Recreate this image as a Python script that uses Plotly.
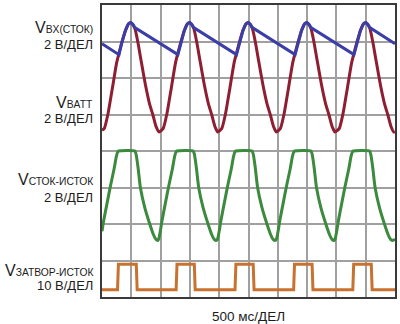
import plotly.graph_objects as go

# Time axis in divisions (10 div across, 500 ms/div); voltage in divisions (8 div tall)
blue_t = [0, 0.58, 0.68, 0.8, 0.9, 0.98, 1.05, 1.12,
          2.59, 2.69, 2.81, 2.91, 2.99, 3.06, 3.13,
          4.59, 4.69, 4.81, 4.91, 4.99, 5.06, 5.13,
          6.59, 6.69, 6.81, 6.91, 6.99, 7.06, 7.13,
          8.6, 8.7, 8.82, 8.92, 9.0, 9.07, 9.14, 10]
blue_v = [6.94, 6.64, 6.98, 7.3, 7.48, 7.52, 7.47, 7.38,
          6.64, 6.98, 7.3, 7.48, 7.52, 7.47, 7.38,
          6.64, 6.98, 7.3, 7.48, 7.52, 7.47, 7.38,
          6.64, 6.98, 7.3, 7.48, 7.52, 7.47, 7.38,
          6.64, 6.98, 7.3, 7.48, 7.52, 7.47, 7.38, 6.94]

red_t = [0, 0.08, 0.21, 0.36, 0.5, 0.58, 0.68, 0.8, 0.9, 0.98, 1.05, 1.12, 1.22, 1.34, 1.48, 1.62, 1.74, 1.84, 1.95,
         2.09, 2.22, 2.37, 2.51, 2.59, 2.69, 2.81, 2.91, 2.99, 3.06, 3.13, 3.23, 3.35, 3.49, 3.63, 3.75, 3.85, 3.95,
         4.09, 4.22, 4.37, 4.51, 4.59, 4.69, 4.81, 4.91, 4.99, 5.06, 5.13, 5.23, 5.35, 5.49, 5.63, 5.75, 5.85, 5.95,
         6.09, 6.22, 6.37, 6.51, 6.59, 6.69, 6.81, 6.91, 6.99, 7.06, 7.13, 7.23, 7.35, 7.49, 7.63, 7.75, 7.85, 7.95,
         8.1, 8.23, 8.38, 8.52, 8.6, 8.7, 8.82, 8.92, 9.0, 9.07, 9.14, 9.24, 9.36, 9.5, 9.64, 9.76, 9.86, 9.96, 10]
red_v = [4.57, 4.62, 5.04, 5.75, 6.42, 6.68, 6.98, 7.3, 7.48, 7.52, 7.47, 7.36, 7.0, 6.45, 5.82, 5.3, 4.98, 4.68, 4.52,
         4.62, 5.04, 5.75, 6.42, 6.68, 6.98, 7.3, 7.48, 7.52, 7.47, 7.36, 7.0, 6.45, 5.82, 5.3, 4.98, 4.68, 4.52,
         4.62, 5.04, 5.75, 6.42, 6.68, 6.98, 7.3, 7.48, 7.52, 7.47, 7.36, 7.0, 6.45, 5.82, 5.3, 4.98, 4.68, 4.52,
         4.62, 5.04, 5.75, 6.42, 6.68, 6.98, 7.3, 7.48, 7.52, 7.47, 7.36, 7.0, 6.45, 5.82, 5.3, 4.98, 4.68, 4.52,
         4.62, 5.04, 5.75, 6.42, 6.68, 6.98, 7.3, 7.48, 7.52, 7.47, 7.36, 7.0, 6.45, 5.82, 5.3, 4.98, 4.68, 4.52, 4.53]

green_t = [0, 0.06, 0.18, 0.29, 0.41, 0.49, 0.54, 0.57, 1.12, 1.16, 1.23, 1.31, 1.46, 1.63, 1.75, 1.84,
           1.9, 1.94, 2.0, 2.05, 2.17, 2.28, 2.4, 2.48, 2.53, 2.56, 3.11, 3.15, 3.22, 3.3, 3.45, 3.62, 3.74, 3.83,
           3.91, 3.95, 4.01, 4.06, 4.18, 4.29, 4.41, 4.49, 4.54, 4.57, 5.12, 5.16, 5.23, 5.31, 5.46, 5.63, 5.75, 5.84,
           5.92, 5.96, 6.02, 6.07, 6.19, 6.3, 6.42, 6.5, 6.55, 6.58, 7.13, 7.17, 7.24, 7.32, 7.47, 7.64, 7.76, 7.85,
           7.92, 7.96, 8.02, 8.07, 8.19, 8.3, 8.42, 8.5, 8.55, 8.58, 9.13, 9.17, 9.24, 9.32, 9.47, 9.64, 9.76, 9.85,
           9.93, 10]
green_v = [1.8, 2.1, 2.6, 3.05, 3.5, 3.85, 3.98, 4.0, 4.0, 3.92, 3.55, 3.0, 2.45, 2.0, 1.72, 1.58,
           1.55, 1.6, 1.85, 2.1, 2.6, 3.05, 3.5, 3.85, 3.98, 4.0, 4.0, 3.92, 3.55, 3.0, 2.45, 2.0, 1.72, 1.58,
           1.55, 1.6, 1.85, 2.1, 2.6, 3.05, 3.5, 3.85, 3.98, 4.0, 4.0, 3.92, 3.55, 3.0, 2.45, 2.0, 1.72, 1.58,
           1.55, 1.6, 1.85, 2.1, 2.6, 3.05, 3.5, 3.85, 3.98, 4.0, 4.0, 3.92, 3.55, 3.0, 2.45, 2.0, 1.72, 1.58,
           1.55, 1.6, 1.85, 2.1, 2.6, 3.05, 3.5, 3.85, 3.98, 4.0, 4.0, 3.92, 3.55, 3.0, 2.45, 2.0, 1.72, 1.58,
           1.55, 1.58]

orange_t = [0, 0.53, 0.56, 1.17, 1.2, 2.53, 2.56, 3.15, 3.18, 4.54, 4.57, 5.16, 5.19,
            6.54, 6.57, 7.17, 7.2, 8.56, 8.59, 9.19, 9.22, 10]
orange_v = [0.2, 0.2, 0.9, 0.9, 0.2, 0.2, 0.9, 0.9, 0.2, 0.2, 0.9, 0.9, 0.2,
            0.2, 0.9, 0.9, 0.2, 0.2, 0.9, 0.9, 0.2, 0.2]

channel_names = ["BX(СТОК)", "BATT", "СТОК-ИСТОК", "ЗАТВОР-ИСТОК"]
channel_scales = ["2 В/ДЕЛ", "2 В/ДЕЛ", "2 В/ДЕЛ", "10 В/ДЕЛ"]
time_scale = "500 мс/ДЕЛ"

W, H = 400, 324
ML, MR, MT, MB = 102, 3, 3, 27
FONT = "Liberation Sans, Arial, sans-serif"
TXT = "#1c1c1c"

fig = go.Figure()
fig.add_trace(go.Scatter(x=green_t, y=green_v, mode="lines",
                         line=dict(color="#3b8a3e", width=3, shape="spline", smoothing=0.5)))
fig.add_trace(go.Scatter(x=orange_t, y=orange_v, mode="lines",
                         line=dict(color="#c8722f", width=3)))
fig.add_trace(go.Scatter(x=red_t, y=red_v, mode="lines",
                         line=dict(color="#8e1f33", width=3, shape="spline", smoothing=0.5)))
fig.add_trace(go.Scatter(x=blue_t, y=blue_v, mode="lines",
                         line=dict(color="#3a3ea6", width=3)))

plot_h = H - MT - MB


def paper_y(px):
    return (H - MB - px) / plot_h


# label rows: (pixel middle of first line, pixel middle of second line)
rows = [(25.8, 42.6), (100.8, 117.6), (179.0, 197.0), (270.6, 285.2)]
annotations = []
for name, scale, (y1, y2) in zip(channel_names, channel_scales, rows):
    annotations.append(dict(
        text='V<span style="font-size:10.3px">' + name + '</span>',
        xref="paper", yref="paper", x=0, y=paper_y(y1),
        xanchor="right", yanchor="middle", xshift=-7, showarrow=False,
        font=dict(family=FONT, size=16, color=TXT)))
    annotations.append(dict(
        text=scale, xref="paper", yref="paper", x=0, y=paper_y(y2),
        xanchor="right", yanchor="middle", xshift=-7, showarrow=False,
        font=dict(family=FONT, size=13, color=TXT)))
annotations.append(dict(
    text=time_scale, xref="paper", yref="paper", x=0.5, y=paper_y(317),
    xanchor="center", yanchor="middle", showarrow=False,
    font=dict(family=FONT, size=13.5, color=TXT)))

axis_common = dict(showgrid=True, gridcolor="#a0a0a0", gridwidth=1.5,
                   showline=True, linecolor="#3a3a3a", linewidth=2, mirror=True,
                   zeroline=False, showticklabels=False, ticks="", dtick=1,
                   fixedrange=True)

fig.update_layout(
    width=W, height=H,
    margin=dict(l=ML, r=MR, t=MT, b=MB, pad=0),
    paper_bgcolor="white", plot_bgcolor="white",
    showlegend=False,
    xaxis=dict(range=[0, 10], **axis_common),
    yaxis=dict(range=[0, 8], **axis_common),
    annotations=annotations,
)

fig.write_html("out.html", config={"displayModeBar": False})
